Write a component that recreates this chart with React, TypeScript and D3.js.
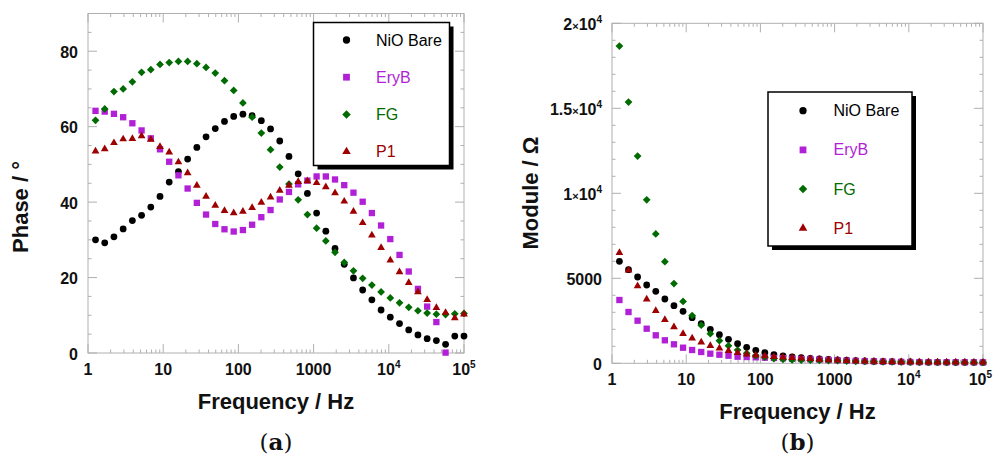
import React from "react";
import * as d3 from "d3";

// Frequencies (Hz), shared by both panels
const FREQ = [1.259, 1.669, 2.213, 2.935, 3.89, 5.158, 6.839, 9.068, 12.02, 15.94, 21.13, 28.02, 37.15, 49.26, 65.31, 86.6, 114.8, 152.2, 201.8, 267.6, 354.8, 470.4, 623.7, 827.0, 1096.5, 1453.9, 1927.5, 2555.7, 3388.4, 4492.7, 5956.6, 7897.8, 10471, 13884, 18408, 24406, 32359, 42905, 56885, 75423, 100000];

// Panel (a): phase (degrees)
const PHASE_NIO = [30.0, 29.2, 30.8, 32.9, 35.1, 36.5, 38.7, 41.5, 45.3, 48.1, 51.4, 54.5, 57.3, 59.5, 61.4, 62.7, 63.3, 62.9, 61.6, 59.4, 56.2, 52.1, 47.5, 42.3, 37.1, 32.3, 27.7, 23.5, 19.9, 16.7, 14.1, 11.4, 9.5, 7.8, 6.1, 4.8, 3.8, 3.3, 2.3, 4.5, 4.5];
const PHASE_ERYB = [64.2, 64.0, 63.4, 62.5, 60.9, 59.0, 56.9, 54.0, 50.7, 47.1, 43.6, 39.8, 36.7, 34.2, 32.8, 32.2, 32.6, 34.0, 36.0, 37.9, 40.7, 42.7, 44.7, 45.7, 46.8, 46.8, 46.0, 44.5, 42.5, 40.1, 37.1, 33.8, 30.2, 26.0, 21.6, 17.0, 12.3, 8.2, 0.1];
const PHASE_FG = [61.7, 64.7, 69.3, 70.0, 71.9, 74.4, 75.1, 76.5, 77.0, 77.3, 77.3, 76.7, 75.7, 74.2, 72.2, 69.6, 66.3, 62.5, 58.3, 53.9, 49.3, 44.8, 40.6, 36.7, 33.1, 29.7, 26.7, 24.0, 21.8, 19.8, 18.0, 16.2, 14.6, 13.3, 12.1, 11.2, 10.6, 10.3, 10.2, 10.4, 10.5];
const PHASE_P1 = [53.5, 54.1, 55.7, 56.7, 56.8, 57.5, 56.6, 54.7, 53.2, 50.6, 47.7, 44.4, 41.5, 39.1, 37.7, 37.1, 37.5, 38.5, 39.9, 41.3, 43.1, 44.4, 45.4, 45.6, 45.1, 44.0, 42.4, 40.2, 37.5, 34.5, 31.2, 27.9, 24.6, 21.5, 18.6, 16.2, 14.1, 12.0, 10.7, 9.3, 10.3];

// Panel (b): module (ohm)
const MOD_NIO = [6000, 5506, 5076, 4606, 4235, 3782, 3388, 3059, 2682, 2329, 2000, 1682, 1412, 1153, 941, 765, 624, 506, 429, 371, 329, 295, 265, 235, 205, 180, 160, 140, 122, 108, 96, 86, 78, 72, 67, 63, 60, 58, 56, 55, 54];
const MOD_ERYB = [3723, 3017, 2506, 2035, 1647, 1353, 1118, 918, 782, 665, 565, 506, 447, 388, 371, 353, 329, 312, 294, 271, 253, 235, 215, 195, 175, 155, 140, 125, 110, 100, 90, 82, 76, 72, 68, 65, 62, 60, 58, 56, 55];
const MOD_FG = [18660, 15370, 12190, 9620, 7610, 5980, 4690, 3640, 2810, 2240, 1740, 1330, 1030, 780, 590, 450, 370, 280, 235, 200, 190, 180, 170, 160, 150, 135, 120, 108, 98, 90, 83, 77, 72, 68, 65, 62, 60, 58, 56, 55, 54];
const MOD_P1 = [6506, 5470, 4547, 3764, 3094, 2565, 2135, 1741, 1470, 1235, 1035, 882, 741, 624, 529, 470, 429, 388, 353, 329, 294, 260, 230, 200, 175, 155, 135, 120, 105, 95, 85, 78, 72, 68, 65, 62, 60, 58, 56, 55, 54];

const SERIES_NAMES = ["NiO Bare", "EryB", "FG", "P1"];
const SERIES_COLORS = ["#000000", "#b11fd6", "#006b00", "#9c0000"];

// square-proportioned diamond (rotated square)
const symbolRhomb = {
  draw(context: any, size: number) {
    const r = Math.sqrt(size / 2);
    context.moveTo(0, -r);
    context.lineTo(r, 0);
    context.lineTo(0, r);
    context.lineTo(-r, 0);
    context.closePath();
  },
};
const SERIES_SYMBOLS: any[] = [d3.symbolCircle, d3.symbolSquare, symbolRhomb, d3.symbolTriangle];
const SYMBOL_SIZES = [36, 40, 30, 26];
const DRAW_ORDER = [0, 1, 2, 3];

const X_TICKS = [1, 10, 100, 1000, 1e4, 1e5];
const X_TICK_LABELS = ["1", "10", "100", "1000", "10^4", "10^5"];
const Y_TICKS_A = [0, 20, 40, 60, 80];
const Y_TICK_LABELS_A = ["0", "20", "40", "60", "80"];
const Y_TICKS_B = [0, 5000, 10000, 15000, 20000];
const Y_TICK_LABELS_B = ["0", "5000", "1×10^4", "1.5×10^4", "2×10^4"];

const FONT = "'Liberation Sans', Arial, sans-serif";
const FRAME = "#b0b0b0";

function Label({ x, y, text, anchor, size }: any) {
  if (text.includes("^")) {
    const [base, exp] = text.split("^");
    let mant = "";
    let b = base;
    if (base.includes("×")) {
      const parts = base.split("×");
      mant = parts[0];
      b = parts[1];
    }
    return (
      <text x={x} y={y} textAnchor={anchor} fontFamily={FONT} fontWeight="bold" fontSize={size} fill="#111">
        {mant && <tspan>{mant}</tspan>}
        {mant && <tspan fontSize={11}>×</tspan>}
        <tspan>{b}</tspan>
        <tspan fontSize={10} dy={-7}>{exp}</tspan>
      </text>
    );
  }
  return (
    <text x={x} y={y} textAnchor={anchor} fontFamily={FONT} fontWeight="bold" fontSize={size} fill="#111">
      {text}
    </text>
  );
}

function Panel({ x0, x1, y0, y1, yDomain, yMinorStep, yTicks, yTickLabels, series, yLabel, yLabelX, yLabelY, tag, legend }: any) {
  const xs = d3.scaleLog().domain([1, 1e5]).range([x0, x1]);
  const ys = d3.scaleLinear().domain(yDomain).range([y1, y0]);
  const minorX: number[] = [];
  for (let d = 0; d < 5; d++) for (let m = 2; m <= 9; m++) minorX.push(m * Math.pow(10, d));
  const minorY = d3.range(yDomain[0], yDomain[1] + 1e-9, yMinorStep).filter((v: number) => !yTicks.includes(v));
  const cx = (x0 + x1) / 2;
  const maj = 9, mnr = 3.5;
  return (
    <g>
      <rect x={x0} y={y0} width={x1 - x0} height={y1 - y0} fill="none" stroke={FRAME} strokeWidth={1} />
      {minorX.map((v, i) => (
        <g key={"mx" + i} stroke={FRAME}>
          <line x1={xs(v)} x2={xs(v)} y1={y1} y2={y1 - mnr} />
          <line x1={xs(v)} x2={xs(v)} y1={y0} y2={y0 + mnr} />
        </g>
      ))}
      {X_TICKS.map((v, i) => (
        <g key={"Mx" + i} stroke={FRAME}>
          <line x1={xs(v)} x2={xs(v)} y1={y1} y2={y1 - maj} />
          <line x1={xs(v)} x2={xs(v)} y1={y0} y2={y0 + maj} />
        </g>
      ))}
      {minorY.map((v: number, i: number) => (
        <g key={"my" + i} stroke={FRAME}>
          <line x1={x0} x2={x0 + mnr} y1={ys(v)} y2={ys(v)} />
          <line x1={x1} x2={x1 - mnr} y1={ys(v)} y2={ys(v)} />
        </g>
      ))}
      {yTicks.map((v: number, i: number) => (
        <g key={"My" + i} stroke={FRAME}>
          <line x1={x0} x2={x0 + maj} y1={ys(v)} y2={ys(v)} />
          <line x1={x1} x2={x1 - maj} y1={ys(v)} y2={ys(v)} />
        </g>
      ))}
      {X_TICKS.map((v, i) => {
        const px = xs(v);
        const overflow = px + 14 > 992;
        return (
          <Label key={"xl" + i} x={overflow ? 992 : px} y={y1 + 22} text={X_TICK_LABELS[i]} anchor={overflow ? "end" : "middle"} size={16} />
        );
      })}
      {yTicks.map((v: number, i: number) => (
        <Label key={"yl" + i} x={x0 - 10} y={ys(v) + 6.5} text={yTickLabels[i]} anchor="end" size={16} />
      ))}
      {DRAW_ORDER.map((si) => {
        const vals: number[] = series[si];
        const path = d3.symbol().type(SERIES_SYMBOLS[si]).size(SYMBOL_SIZES[si])();
        return (
          <g key={"s" + si} fill={SERIES_COLORS[si]}>
            {vals.map((v, k) => (
              <path key={k} d={path as string} transform={`translate(${xs(FREQ[k])},${ys(v)})`} />
            ))}
          </g>
        );
      })}
      <text x={cx} y={y1 + 56} textAnchor="middle" fontFamily={FONT} fontWeight="bold" fontSize={22} fill="#111">
        Frequency / Hz
      </text>
      <text transform={`translate(${yLabelX},${yLabelY}) rotate(-90)`} textAnchor="middle" fontFamily={FONT} fontWeight="bold" fontSize={22} fill="#111">
        {yLabel}
      </text>
      <text x={cx} y={450} textAnchor="middle" fontFamily="'DejaVu Serif', serif" fontSize={23} fill="#111">
        (<tspan fontWeight="bold">{tag}</tspan>)
      </text>
      <g>
        <rect x={legend.x + 4} y={legend.y + 4} width={legend.w} height={legend.h} fill="#000" />
        <rect x={legend.x} y={legend.y} width={legend.w} height={legend.h} fill="#fff" stroke="#000" strokeWidth={1.5} />
        {SERIES_NAMES.map((name, i) => {
          const p = d3.symbol().type(SERIES_SYMBOLS[i]).size(SYMBOL_SIZES[i] + 6)();
          const yy = legend.y + legend.first + i * legend.step;
          return (
            <g key={"lg" + i}>
              <path d={p as string} fill={SERIES_COLORS[i]} transform={`translate(${legend.x + legend.mx},${yy})`} />
              <text x={legend.x + legend.tx} y={yy + 5.5} fontFamily={FONT} fontSize={16} fill={SERIES_COLORS[i]}>
                {name}
              </text>
            </g>
          );
        })}
      </g>
    </g>
  );
}

export default function App() {
  return (
    <svg width={993} height={459} style={{ position: "absolute", left: 0, top: 0, background: "#fff" }}>
      <Panel
        x0={88} x1={464} y0={13.5} y1={353}
        yDomain={[0, 90]} yMinorStep={5}
        yTicks={Y_TICKS_A} yTickLabels={Y_TICK_LABELS_A}
        series={[PHASE_NIO, PHASE_ERYB, PHASE_FG, PHASE_P1]}
        yLabel="Phase / °" yLabelX={27.5} yLabelY={207}
        tag="a"
        legend={{ x: 313.5, y: 22.5, w: 136, h: 143, mx: 33, tx: 62.5, first: 17.5, step: 37.2 }}
      />
      <Panel
        x0={612} x1={983} y0={23.3} y1={363.3}
        yDomain={[0, 20000]} yMinorStep={1000}
        yTicks={Y_TICKS_B} yTickLabels={Y_TICK_LABELS_B}
        series={[MOD_NIO, MOD_ERYB, MOD_FG, MOD_P1]}
        yLabel="Module / Ω" yLabelX={538} yLabelY={193}
        tag="b"
        legend={{ x: 768, y: 92, w: 144, h: 154, mx: 35, tx: 65.5, first: 18.7, step: 39.2 }}
      />
    </svg>
  );
}
